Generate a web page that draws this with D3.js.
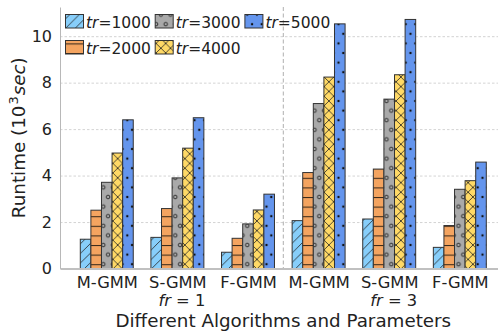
<!DOCTYPE html>
<html>
<head>
<meta charset="utf-8">
<script src="https://cdn.jsdelivr.net/npm/d3@7"></script>
<style>
  html, body { margin: 0; padding: 0; background: #fff; }
  svg { display: block; font-family: "DejaVu Sans", sans-serif; }
</style>
</head>
<body>
<svg id="chart" width="498" height="335"></svg>
<script>
// Runtime of each algorithm per training size
const groups = ["M-GMM", "S-GMM", "F-GMM", "M-GMM", "S-GMM", "F-GMM"];
const frLabels = ["", "1", "", "", "3", ""];
const seriesNames = ["1000", "2000", "3000", "4000", "5000"];
const tr1000 = [1.26, 1.34, 0.70, 2.06, 2.13, 0.91];
const tr2000 = [2.51, 2.58, 1.30, 4.13, 4.28, 1.85];
const tr3000 = [3.71, 3.90, 1.92, 7.10, 7.29, 3.41];
const tr4000 = [4.97, 5.18, 2.52, 8.24, 8.34, 3.78];
const tr5000 = [6.40, 6.49, 3.20, 10.53, 10.72, 4.58];
const yTicks = [0, 2, 4, 6, 8, 10];

const series = [tr1000, tr2000, tr3000, tr4000, tr5000];
const fills = ["#87cefa", "#f4a460", "#a9a9a9", "#ffd966", "#6495ed"];
const hatchIds = ["h-diag", "h-horiz", "h-circ", "h-cross", "h-dots"];

const svg = d3.select("#chart");
const barW = 0.15;
const maxVal = d3.max(series.flat());

const x = d3.scaleLinear()
  .domain([-2.5 * barW - 0.2875, groups.length - 1 + 2.5 * barW + 0.2875])
  .range([60, 506.6]);
const y = d3.scaleLinear().domain([0, maxVal * 1.05]).range([268.5, 7]);

// hatch patterns (shared origin, like a global hatch grid)
const s = 9.6, ox = 2.5, oy = 5;
const defs = svg.append("defs");
const hatchColor = "#222", hw = 0.8;
function pat(id, w, h) {
  return defs.append("pattern").attr("id", id)
    .attr("patternUnits", "userSpaceOnUse")
    .attr("width", w).attr("height", h)
    .attr("patternTransform", `translate(${ox},${oy})`);
}
{
  const p = pat("h-diag", s, s);
  [[-s, s, 0, 0], [0, s, s, 0], [0, 2 * s, 2 * s, 0]].forEach(d =>
    p.append("line").attr("x1", d[0]).attr("y1", d[1]).attr("x2", d[2]).attr("y2", d[3])
      .attr("stroke", hatchColor).attr("stroke-width", hw));
}
{
  const p = pat("h-horiz", s, s);
  p.append("line").attr("x1", 0).attr("y1", 0.5).attr("x2", s).attr("y2", 0.5)
    .attr("stroke", "#3a2a1a").attr("stroke-width", 1.1);
}
{
  const p = pat("h-cross", s, s);
  [[-s, s, 0, 0], [0, s, s, 0], [0, 2 * s, 2 * s, 0],
   [0, 0, s, s], [-s, 0, s, 2 * s], [0, -s, 2 * s, s]].forEach(d =>
    p.append("line").attr("x1", d[0]).attr("y1", d[1]).attr("x2", d[2]).attr("y2", d[3])
      .attr("stroke", hatchColor).attr("stroke-width", hw));
}
const gridPts = [[0, 0], [s, 0], [0, 2 * s], [s, 2 * s], [s / 2, s]];
{
  const p = pat("h-circ", s, 2 * s);
  gridPts.forEach(c => p.append("circle").attr("cx", c[0]).attr("cy", c[1]).attr("r", 1.8)
    .attr("fill", "none").attr("stroke", hatchColor).attr("stroke-width", 0.9));
}
{
  const p = pat("h-dots", s, 2 * s);
  gridPts.forEach(c => p.append("circle").attr("cx", c[0]).attr("cy", c[1]).attr("r", 1.2)
    .attr("fill", "#111"));
}

// horizontal grid
const yGrid = svg.append("g")
  .attr("transform", `translate(${x.range()[0]},0)`)
  .call(d3.axisLeft(y).tickValues(yTicks.filter(t => t > 0)).tickSize(-(x.range()[1] - x.range()[0])).tickFormat(""));
yGrid.select(".domain").remove();
yGrid.selectAll("line").attr("stroke", "#c8c8c8").attr("stroke-width", 0.8).attr("stroke-dasharray", "2.5,2");

// divider between the fr=1 and fr=3 halves
svg.append("line")
  .attr("x1", x(2.5)).attr("x2", x(2.5))
  .attr("y1", y.range()[1]).attr("y2", y.range()[0])
  .attr("stroke", "#b0b0b0").attr("stroke-width", 1).attr("stroke-dasharray", "4,2.5");

// bars
const bw = x(barW) - x(0);
series.forEach((vals, j) => {
  const g = svg.append("g");
  const xi = (i) => x(i + (j - 2) * barW - barW / 2);
  g.selectAll("rect.base").data(vals).join("rect")
    .attr("x", (d, i) => xi(i)).attr("width", bw)
    .attr("y", d => y(d)).attr("height", d => y(0) - y(d))
    .attr("fill", fills[j]);
  g.selectAll("rect.hatch").data(vals).join("rect")
    .attr("x", (d, i) => xi(i)).attr("width", bw)
    .attr("y", d => y(d)).attr("height", d => y(0) - y(d))
    .attr("fill", `url(#${hatchIds[j]})`)
    .attr("stroke", "#333").attr("stroke-width", 1);
});

// axes
const yAxis = svg.append("g")
  .attr("transform", `translate(${x.range()[0]},0)`)
  .call(d3.axisLeft(y).tickValues(yTicks).tickSize(0).tickPadding(8).tickFormat(d3.format("d")));
yAxis.select(".domain").attr("stroke", "#b8b8b8").attr("stroke-width", 1);
yAxis.selectAll("text").attr("font-size", 16).attr("fill", "#222").attr("font-family", "DejaVu Sans");

const xAxis = svg.append("g")
  .attr("transform", `translate(0,${y(0)})`)
  .call(d3.axisBottom(x).tickValues(d3.range(groups.length)).tickSize(0).tickPadding(8)
    .tickFormat(i => groups[i]));
xAxis.select(".domain").attr("stroke", "#c0c0c0").attr("stroke-width", 2);
xAxis.selectAll("text").attr("font-size", 16.3).attr("fill", "#222").attr("font-family", "DejaVu Sans");
xAxis.selectAll(".tick").each(function (i) {
  if (!frLabels[i]) return;
  const t = d3.select(this).append("text")
    .attr("y", 37.5).attr("x", 4).attr("text-anchor", "middle")
    .attr("font-size", 16.3).attr("fill", "#222").attr("font-family", "DejaVu Sans");
  t.append("tspan").attr("font-style", "italic").text("fr");
  t.append("tspan").text(" = " + frLabels[i]);
});

// axis titles
svg.append("text")
  .attr("x", (x.range()[0] + x.range()[1]) / 2).attr("y", 326.7)
  .attr("text-anchor", "middle").attr("font-size", 18.3).attr("fill", "#222")
  .text("Different Algorithms and Parameters");

const yl = svg.append("text")
  .attr("transform", `translate(25,${(y.range()[0] + y.range()[1]) / 2}) rotate(-90)`)
  .attr("text-anchor", "middle").attr("font-size", 18.3).attr("fill", "#222");
yl.append("tspan").text("Runtime (10");
yl.append("tspan").attr("font-size", 13).attr("dy", -7).attr("dx", 1).text("3");
yl.append("tspan").attr("dy", 7).attr("dx", 1).attr("font-style", "italic").text("sec");
yl.append("tspan").text(")");

// legend: 3 columns, filled column by column
const legend = svg.append("g");
seriesNames.forEach((name, j) => {
  const col = Math.floor(j / 2), row = j % 2;
  const lx = 65.5 + col * 89.7, ly = 14.5 + row * 26;
  legend.append("rect").attr("x", lx).attr("y", ly).attr("width", 18).attr("height", 13.5)
    .attr("fill", fills[j]);
  legend.append("rect").attr("x", lx).attr("y", ly).attr("width", 18).attr("height", 13.5)
    .attr("fill", `url(#${hatchIds[j]})`).attr("stroke", "#333").attr("stroke-width", 1);
  const t = legend.append("text").attr("x", lx + 20.5).attr("y", ly + 13)
    .attr("font-size", 15.5).attr("fill", "#222");
  t.append("tspan").attr("font-style", "italic").text("tr");
  t.append("tspan").text("=" + name);
});
</script>
</body>
</html>
